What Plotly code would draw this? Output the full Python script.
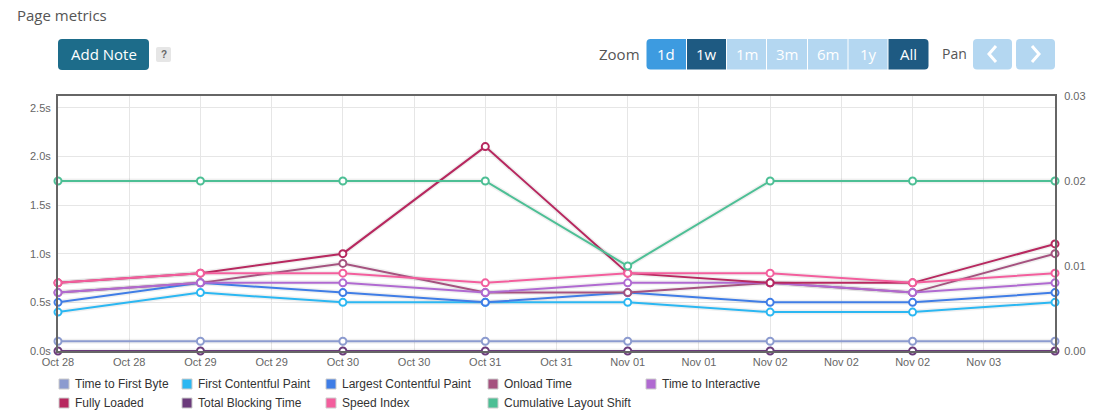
import numpy as np
import plotly.graph_objects as go

# ---------------- data ----------------
tick_labels = ["Oct 28", "Oct 28", "Oct 29", "Oct 29", "Oct 30", "Oct 30", "Oct 31",
               "Oct 31", "Nov 01", "Nov 01", "Nov 02", "Nov 02", "Nov 02", "Nov 03"]
left_ticks = [0.0, 0.5, 1.0, 1.5, 2.0, 2.5]
right_ticks = [0.00, 0.01, 0.02, 0.03]

time_to_first_byte = [0.1, 0.1, 0.1, 0.1, 0.1, 0.1, 0.1, 0.1]
first_contentful_paint = [0.4, 0.6, 0.5, 0.5, 0.5, 0.4, 0.4, 0.5]
largest_contentful_paint = [0.5, 0.7, 0.6, 0.5, 0.6, 0.5, 0.5, 0.6]
onload_time = [0.6, 0.7, 0.9, 0.6, 0.6, 0.7, 0.6, 1.0]
time_to_interactive = [0.6, 0.7, 0.7, 0.6, 0.7, 0.7, 0.6, 0.7]
fully_loaded = [0.7, 0.8, 1.0, 2.1, 0.8, 0.7, 0.7, 1.1]
total_blocking_time = [0.0, 0.0, 0.0, 0.0, 0.0, 0.0, 0.0, 0.0]
speed_index = [0.7, 0.8, 0.8, 0.7, 0.8, 0.8, 0.7, 0.8]
cumulative_layout_shift = [0.02, 0.02, 0.02, 0.02, 0.01, 0.02, 0.02, 0.02]

series = [
    ("Time to First Byte", time_to_first_byte, "#8c9bcf", "y"),
    ("First Contentful Paint", first_contentful_paint, "#2bb7f2", "y"),
    ("Largest Contentful Paint", largest_contentful_paint, "#3f7de6", "y"),
    ("Onload Time", onload_time, "#a5527f", "y"),
    ("Time to Interactive", time_to_interactive, "#b06ad1", "y"),
    ("Fully Loaded", fully_loaded, "#b7285f", "y"),
    ("Total Blocking Time", total_blocking_time, "#6b3b7b", "y"),
    ("Speed Index", speed_index, "#f35e9d", "y"),
    ("Cumulative Layout Shift", cumulative_layout_shift, "#4dbf95", "y2"),
]

# ---------------- geometry ----------------
FW, FH = 1098, 419
L, R, T, B = 58, 43, 96, 68
W = FW - L - R
H = FH - T - B
CHART_FONT = "Liberation Sans, Arial, sans-serif"
UI_FONT = "Open Sans, sans-serif"


def px(x):
    return (x - L) / W


def py(y):
    return (FH - B - y) / H


def rrect(x0, y0, x1, y1, r, left=True, right=True):
    rl = r if left else 0
    rr = r if right else 0
    pts = [
        f"M{px(x0 + rl)},{py(y0)}",
        f"L{px(x1 - rr)},{py(y0)}",
        f"Q{px(x1)},{py(y0)} {px(x1)},{py(y0 + rr)}",
        f"L{px(x1)},{py(y1 - rr)}",
        f"Q{px(x1)},{py(y1)} {px(x1 - rr)},{py(y1)}",
        f"L{px(x0 + rl)},{py(y1)}",
        f"Q{px(x0)},{py(y1)} {px(x0)},{py(y1 - rl)}",
        f"L{px(x0)},{py(y0 + rl)}",
        f"Q{px(x0)},{py(y0)} {px(x0 + rl)},{py(y0)}",
        "Z",
    ]
    return " ".join(pts)


fig = go.Figure()

x = np.arange(len(time_to_first_byte))
for name, vals, color, yax in series:
    fig.add_trace(go.Scatter(
        x=x, y=vals, name=name, yaxis=yax, mode="lines",
        line=dict(color="rgba(0,0,0,0.06)", width=5),
        hoverinfo="skip", showlegend=False, cliponaxis=False,
    ))
for name, vals, color, yax in series:
    fig.add_trace(go.Scatter(
        x=x, y=vals, name=name, yaxis=yax, mode="lines+markers",
        line=dict(color=color, width=2),
        marker=dict(size=7, color="white", line=dict(color=color, width=2)),
        showlegend=False, cliponaxis=False,
    ))

shapes = []
annotations = []

# title
annotations.append(dict(text="Page metrics", x=px(15), y=py(15), xref="paper", yref="paper",
                        xanchor="left", yanchor="middle", showarrow=False,
                        font=dict(family=UI_FONT, size=15, color="#555555")))

# Add Note button
shapes.append(dict(type="path", path=rrect(58, 39, 149, 70, 4), xref="paper", yref="paper",
                   fillcolor="#1d6c8a", line=dict(width=0), layer="above"))
annotations.append(dict(text="Add Note", x=px(103.5), y=py(54.5), xref="paper", yref="paper",
                        xanchor="center", yanchor="middle", showarrow=False,
                        font=dict(family=UI_FONT, size=15, color="white")))
shapes.append(dict(type="path", path=rrect(156, 47, 171, 62, 2), xref="paper", yref="paper",
                   fillcolor="#e6e6e6", line=dict(width=0), layer="above"))
annotations.append(dict(text="<b>?</b>", x=px(163.5), y=py(54.5), xref="paper", yref="paper",
                        xanchor="center", yanchor="middle", showarrow=False,
                        font=dict(family=CHART_FONT, size=10, color="#666666")))

# Zoom buttons
annotations.append(dict(text="Zoom", x=px(642), y=py(54), xref="paper", yref="paper",
                        xanchor="right", yanchor="middle", showarrow=False,
                        font=dict(family=UI_FONT, size=15, color="#555555")))
buttons = [("1d", 646.5, 686, "#3d9be0"), ("1w", 687, 726, "#1e5a82"),
           ("1m", 727, 766, "#b4d7f1"), ("3m", 767, 807, "#b4d7f1"),
           ("6m", 808, 847.5, "#b4d7f1"), ("1y", 848.5, 887.5, "#b4d7f1"),
           ("All", 888.5, 928.5, "#1e5a82")]
for i, (lab, x0, x1, col) in enumerate(buttons):
    shapes.append(dict(type="path",
                       path=rrect(x0, 39, x1, 69.5, 4, left=(i == 0), right=(i == len(buttons) - 1)),
                       xref="paper", yref="paper", fillcolor=col, line=dict(width=0), layer="above"))
    annotations.append(dict(text=lab, x=px((x0 + x1) / 2), y=py(54.5), xref="paper", yref="paper",
                            xanchor="center", yanchor="middle", showarrow=False,
                            font=dict(family=UI_FONT, size=15, color="white")))

annotations.append(dict(text="Pan", x=px(969), y=py(54), xref="paper", yref="paper",
                        xanchor="right", yanchor="middle", showarrow=False,
                        font=dict(family=UI_FONT, size=14, color="#555555")))
for (x0, x1, pts) in [(973, 1012, [(996, 46), (989, 54), (996, 62)]),
                      (1016, 1055, [(1032, 46), (1039, 54), (1032, 62)])]:
    shapes.append(dict(type="path", path=rrect(x0, 39, x1, 69.5, 4), xref="paper", yref="paper",
                       fillcolor="#b4d7f1", line=dict(width=0), layer="above"))
    p = f"M{px(pts[0][0])},{py(pts[0][1])} L{px(pts[1][0])},{py(pts[1][1])} L{px(pts[2][0])},{py(pts[2][1])}"
    shapes.append(dict(type="path", path=p, xref="paper", yref="paper",
                       line=dict(color="white", width=3), layer="above"))

# Legend (manual, column-aligned)
legend_text_x = [73, 196, 340, 502, 660]
legend_rows_y = [384, 403]
for i, (name, vals, color, yax) in enumerate(series):
    row, col = divmod(i, 5)
    tx = legend_text_x[col]
    ty = legend_rows_y[row]
    shapes.append(dict(type="rect", xref="paper", yref="paper",
                       x0=px(tx - 14), x1=px(tx - 4), y0=py(ty - 5), y1=py(ty + 5),
                       fillcolor=color, line=dict(color="#cccccc", width=1), layer="above"))
    annotations.append(dict(text=name, x=px(tx), y=py(ty), xref="paper", yref="paper",
                            xanchor="left", yanchor="middle", showarrow=False,
                            font=dict(family=CHART_FONT, size=12, color="#333333")))

fig.update_layout(
    width=FW, height=FH,
    margin=dict(l=L, r=R, t=T, b=B),
    paper_bgcolor="white", plot_bgcolor="white",
    showlegend=False,
    xaxis=dict(range=[0, 7], tickvals=np.arange(0, 7, 0.5), ticktext=tick_labels,
               showgrid=True, gridcolor="#e6e6e6", gridwidth=1, zeroline=False,
               showline=True, linecolor="#666666", linewidth=2, mirror=True, ticks="",
               tickfont=dict(family=CHART_FONT, size=11, color="#666666")),
    yaxis=dict(range=[0, 2.62], tickvals=left_ticks, ticktext=[f"{v:.1f}s" for v in left_ticks],
               showgrid=True, gridcolor="#e6e6e6", gridwidth=1, zeroline=False,
               showline=True, linecolor="#666666", linewidth=2, ticks="",
               ticklabelstandoff=3,
               tickfont=dict(family=CHART_FONT, size=11, color="#666666")),
    yaxis2=dict(range=[0, 0.03], tickvals=right_ticks, ticktext=[f"{v:.2f}" for v in right_ticks],
                overlaying="y", side="right", showgrid=False, zeroline=False,
                showline=True, linecolor="#666666", linewidth=2, ticks="",
                ticklabelstandoff=5,
                tickfont=dict(family=CHART_FONT, size=11, color="#666666")),
    shapes=shapes,
    annotations=annotations,
    hovermode=False,
)

fig.write_html("out.html")
